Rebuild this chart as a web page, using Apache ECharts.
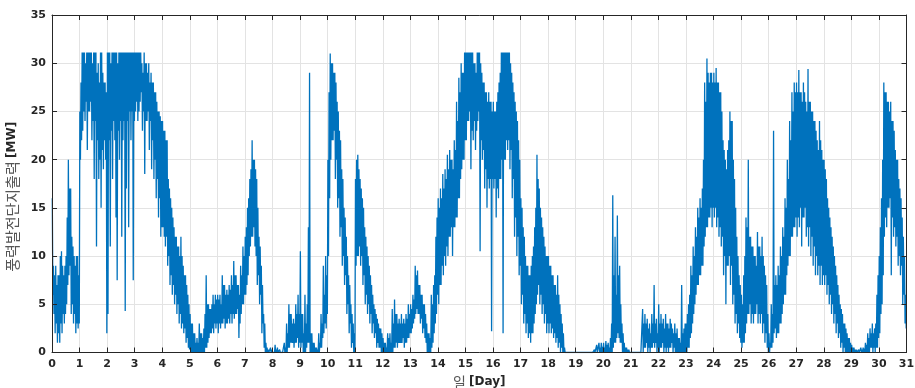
<!DOCTYPE html>
<html>
<head>
<meta charset="utf-8">
<script src="https://cdn.jsdelivr.net/npm/echarts@6/dist/echarts.min.js"></script>
<style>
  html, body { margin: 0; padding: 0; background: #ffffff; }
  #chart { width: 915px; height: 388px; }
</style>
</head>
<body>
<div id="chart"></div>
<script>
// Wind farm output over one month, summarised hour by hour (24 bins per day).
// hourHigh / hourLow hold the highest and lowest output [MW] within each hour.
const binsPerDay = 24;

const hourHigh = [
  16,9, 8,9, 7,8, 8,10, 10.5,9, 8,9, 10,14, 20,17, 17,12, 11,10, 9,10, 10,8,                 // day 0
  25,28, 31.1,31.1, 31.1,30, 31.1,31.1, 31.1,31.1, 31.1,30, 31.1,31.1, 31.1,29, 30,28, 31.1,31.1, 29,28, 28,27, // day 1
  31.1,31.1, 31.1,30, 31.1,31.1, 31.1,31.1, 31.1,30, 31.1,31.1, 31.1,31.1, 31.1,31.1, 31.1,31.1, 31.1,31.1, 31.1,31.1, 31.1,31.1, // day 2
  31.1,31.1, 31.1,31.1, 31.1,31.1, 30,29, 31.1,30, 30,29, 30,28, 29,28, 28,27, 27,26, 25,25, 24.5,24, // day 3
  24,23, 23,22, 22,18, 17,16, 15,14, 13,12, 12,11, 11,10, 12,10, 9,8, 8,7, 6,5,              // day 4
  4,3, 3,2, 2,1, 1.5,1, 3,2, 2,1.5, 2.5,4, 8,5, 5,4.5, 4.5,5, 6,5, 6,5.5,                    // day 5
  6,5.5, 6,5, 8,7, 7,6, 6.5,6, 7,6.5, 8,7, 9.5,8, 8,7, 7,6, 9,8, 11,10,                      // day 6
  12,13, 15,16, 18,19, 22,20, 20,19, 18,15, 12,11, 9,7, 4,3, 1,0.5, 0.3,0.2, 0.5,0.3,        // day 7
  0.2,0.1, 0.8,0.3, 0.5,0.2, 0.3,0.1, 0.2,0.1, 1,0.5, 3,2, 5,4, 4,3, 3.5,3, 5,4, 6,4,        // day 8
  10.5,4, 4,2, 6,3, 5,13, 29,2, 2,1, 1,0.5, 0.5,0.3, 2,1, 4,3, 9,6, 10,8,                    // day 9
  20,27, 31,30, 30,29, 29,28, 26,25, 23,22, 19,18, 15,14, 12,10, 8,7, 5,4, 3,2,              // day 10
  18,20, 20.5,19, 18,17, 16,15, 13,12, 11,10, 9,8, 7,6, 5,4.5, 4,3.5, 3,2.5, 2.5,2,          // day 11
  1.5,1, 1,0.5, 2,1.5, 2,1, 4.5,3, 5.5,4, 4,3, 3.5,3, 4,3, 3.5,3, 4,3.5, 5,4,                // day 12
  5,4.5, 6,5.5, 9,8, 8.5,7, 7,6, 6,5, 5,4, 3,2, 2,1.5, 6,5, 7,8, 12,14,                      // day 13
  16,15, 17,16, 18.5,17, 19,18, 20.5,19, 21,20, 20,19, 22,21, 26,24, 28.5,27, 30,29, 29,31.1, // day 14
  31.1,31.1, 31.1,31.1, 31.1,31.1, 31.1,30, 30,29, 31.1,31.1, 31.1,30, 29,28, 28,27, 27,26, 27,26, 26,25, // day 15
  26,25, 25,26, 27,28, 29,31.1, 31.1,31.1, 31.1,31.1, 31.1,31.1, 31.1,30, 29,28, 27,26, 25,24, 22,20, // day 16
  16,15, 13,12, 10,9, 9,8, 8,9, 10,11, 13,15, 20.5,18, 17,15, 14,13, 12,11, 10,10,           // day 17
  10,9, 9,8, 8,7, 7,6, 8,6, 5,4, 3,2, 0.5,0.2, 0,0, 0,0, 0,0, 0,0,                           // day 18
  0,0, 0,0, 0,0, 0,0, 0,0, 0,0, 0,0, 0,0, 0.3,0.1, 0.8,0.2, 1,0.5, 1,0.6,                    // day 19
  1,0.5, 1.2,0.8, 1,0.5, 1.5,3, 16.3,8, 12,6, 14.2,8, 9,5, 3,2, 1,0.5, 0.5,0.3, 0.3,0,       // day 20
  0,0, 0,0, 0,0, 0,0, 0,0, 4.5,3, 4,3, 3.5,2.5, 3,2, 4,3, 7,3, 3.5,2,                        // day 21
  5,3, 4,3, 3.5,2.5, 4,3, 3,2.5, 3.5,3, 2.5,2, 3,2, 2.5,1.5, 1.5,1, 7,2, 2.5,3,              // day 22
  3,4, 5,6, 9,8, 11,10, 13,12, 15,14, 16,15, 17,20, 28,26, 30.5,29, 28,29, 29,28,            // day 23
  29,28, 29.5,28, 28,27, 27,25, 22,21, 20,19, 21,22, 25,24, 24,20, 18,15, 12,10, 8,7,        // day 24
  6,5, 8,10, 14,13, 20,12, 12,11, 11,10, 10,9, 12.5,11, 11,10, 12,10, 9,8, 7,4,              // day 25
  2,1, 5,4, 23,7, 8,7, 9,8, 11,10, 13,12, 16,15, 20,18, 24,22, 27,25, 28,27,                 // day 26
  28,27, 29.3,27, 27,26, 28,27, 26,25, 29.4,26, 26,25, 25,24, 24,23, 22,21, 24,22, 21,20,    // day 27
  20,19, 18,16, 15,14, 13,12, 11,10, 9,8, 7,6, 5,4.5, 4,3, 3,2.5, 2,1.5, 1.5,1,              // day 28
  0.8,0.5, 0.5,0.3, 0.3,0.2, 0.3,0.2, 0.5,0.3, 0.5,0.4, 1,0.8, 2,1.5, 2.5,2, 3,2, 2.5,3, 6,8, // day 29
  10,13, 16,20, 28,27, 27,26, 26,25, 26,24, 24,23, 21,20, 20,18, 17,16, 14,12, 10,6          // day 30
];

const hourLow = [
  6,4, 2,3, 1,2, 1,3, 2,4, 3,4, 5,7, 8,9, 4,5, 3,4, 2,3, 2.5,3,                              // day 0
  20,22, 23,25, 24,26, 21,25, 25,26, 22,24, 18,24, 11,22, 18,20, 15,21, 19,22, 20,2,         // day 1
  4,22, 11,23, 18,24, 22,14, 7.5,23, 20,24, 12,22, 24,4.3, 17,24, 13,25, 22,25, 7.5,24,      // day 2
  25,26, 24,25, 26,27, 23,25, 18.5,24, 24,25, 21,24, 19,22, 18,20, 16,18, 14,16, 12,13,      // day 3
  13,12, 11,12, 9,10, 7,8, 6,7, 5,6, 4,5, 3,4, 2.5,3, 2,2.5, 1,1.5, 0.5,0.3,                 // day 4
  0,0, 0,0, 0,0, 0,0, 0,0, 0,0, 0,0.5, 0.5,1, 1.5,2, 2,2.5, 2,3, 2.5,3,                      // day 5
  2,3, 2.5,3, 3,3.5, 2.5,3, 3,3.5, 3,4, 3,4, 3.5,4, 4,4.5, 1.5,3, 4,5, 5,6,                  // day 6
  6,7, 8,10, 11,12, 12,13, 11,10, 7,8, 5,6, 2,3, 0.5,0, 0,0, 0,0, 0,0,                       // day 7
  0,0, 0,0, 0,0, 0,0, 0,0, 0,0, 0,0.5, 0.5,1, 1,1, 0.5,1, 1,1.5, 0.5,1,                      // day 8
  0.5,1, 0,0, 0,0.5, 1,1, 0,0, 0,0, 0,0, 0,0, 0,0.5, 0.5,1.5, 2,3, 2.5,4,                    // day 9
  10,16, 20,22, 22,23, 18,20, 15,16, 12,13, 9,10, 7,8, 4,5, 2,3, 0.5,1, 0,0,                 // day 10
  9,10, 10,11, 9,10, 7,8, 5,6, 4,5, 3,4, 2,3, 1.5,2, 0.5,1, 0.5,0.5, 0,0,                    // day 11
  0,0, 0,0, 0,0, 0,0, 0,0.5, 0.5,1, 0.5,1, 1,1, 1,1.5, 0.5,1, 1,1.5, 1.5,2,                  // day 12
  2,2.5, 3,3.5, 4,4.5, 4,4, 3,3.5, 2,2.5, 1.5,1, 0,0, 0,0, 0.5,1, 2,3, 4,6,                  // day 13
  5,7, 7,9, 8,10, 9,11, 10,12, 12,13, 10,13, 13,14, 14,16, 16,18, 19,20, 20,22,              // day 14
  22,24, 24,25, 19,23, 22,24, 21,23, 24,25, 10.5,22, 20,21, 17,19, 15,18, 17,18, 2.2,18,     // day 15
  17,18, 14,17, 16,18, 18,20, 2,20, 20,22, 21,22, 19,21, 16,18, 12,14, 10,12, 8,9,           // day 16
  5,6, 3,4, 2,3, 1.5,2, 1,2, 2,3, 4,5, 6,7, 5,6, 4,5, 3,4, 2,3,                              // day 17
  2,3, 2,2.5, 1.5,2, 1,1.5, 0.5,1, 0,0.5, 0,0, 0,0, 0,0, 0,0, 0,0, 0,0,                      // day 18
  0,0, 0,0, 0,0, 0,0, 0,0, 0,0, 0,0, 0,0, 0,0, 0,0, 0,0, 0,0,                                // day 19
  0,0, 0,0, 0,0, 0,0, 0.5,1, 1,1.5, 2,1.5, 1,1, 0,0, 0,0, 0,0, 0,0,                          // day 20
  0,0, 0,0, 0,0, 0,0, 0,0, 0,0.5, 0.5,1, 0,0.5, 0,0.5, 0.5,1, 0.5,1, 0,0.5,                  // day 21
  0,0.5, 0.5,1, 0,0.5, 0,0.5, 0,0.5, 0.5,1, 0,0.5, 0,0, 0,0, 0,0, 0,0, 0,0,                  // day 22
  0,0.5, 0.5,1.5, 2,3, 4,5, 6,7, 7,8, 8,9, 9,11, 12,13, 13,14, 14,15, 13,15,                 // day 23
  14,15, 13,14, 12,13, 11,12, 8,10, 5,9, 9,10, 7,9, 5,6, 3,4, 2,3, 1.5,1,                    // day 24
  0.5,1, 1,2, 3,4, 4,5, 3,4, 3,4, 4,5, 3,4, 3,4, 2,3, 1,2, 0.5,0,                            // day 25
  0,0.5, 0.5,1, 2,2.5, 1.5,2, 2,3, 3,4, 5,6, 6,8, 9,10, 10,12, 12,13, 13,14,                 // day 26
  12,14, 13,15, 11,14, 14,15, 12,13, 11,13, 10,12, 9,11, 8,10, 8,9, 7,9, 7,8,                // day 27
  7,8, 6,7, 5,6, 4,5, 3,4, 2,3, 1.5,2, 0.5,1, 0,0.5, 0,0, 0,0, 0,0,                          // day 28
  0,0, 0,0, 0,0, 0,0, 0,0, 0,0, 0,0, 0,0, 0.5,0.5, 0,0.5, 0,0.5, 0.5,1.5,                    // day 29
  2,4, 5,8, 12,14, 13,15, 15,16, 8,14, 12,13, 11,12, 9,10, 8,9, 5,6, 3,2.5                   // day 30
];

// Axis ranges and tick steps
const dayMin = 0, dayMax = 31, dayStep = 1;
const mwMin = 0, mwMax = 35, mwStep = 5;

// Each hour contributes its high and its low, placed inside the hour in time order
const outputPoints = [];
for (let i = 0; i < hourHigh.length; i++) {
  const start = i / binsPerDay;
  outputPoints.push([start + 0.25 / binsPerDay, hourHigh[i]]);
  outputPoints.push([start + 0.75 / binsPerDay, hourLow[i]]);
}

const ink = '#262626';
const tickFont = { fontFamily: 'DejaVu Sans', fontWeight: 'bold', fontSize: 11, color: ink };
const plotBox = { left: 52, top: 15, width: 854.5, height: 337.5, outerBoundsMode: 'none', containLabel: false };

const chart = echarts.init(document.getElementById('chart'), null, { renderer: 'canvas' });

const xScale = { type: 'value', min: dayMin, max: dayMax, interval: dayStep };
const yScale = { type: 'value', min: mwMin, max: mwMax, interval: mwStep };
const boxLine = { show: true, onZero: false, lineStyle: { color: ink, width: 1 } };
const boxTick = { show: true, inside: true, length: 5, lineStyle: { color: ink } };
const gridLine = { show: true, lineStyle: { color: '#e3e3e3', width: 1 } };

chart.setOption({
  animation: false,
  backgroundColor: '#ffffff',
  grid: [
    Object.assign({ show: false }, plotBox),
    Object.assign({ show: false }, plotBox)
  ],
  xAxis: [
    // grid lines beneath the data
    Object.assign({}, xScale, {
      gridIndex: 0, position: 'bottom',
      axisLine: { show: false }, axisTick: { show: false }, axisLabel: { show: false },
      splitLine: gridLine
    }),
    // box edges, ticks and labels drawn over the data
    Object.assign({}, xScale, {
      gridIndex: 1, position: 'bottom', z: 10,
      axisLine: boxLine, axisTick: boxTick,
      axisLabel: Object.assign({ margin: 6 }, tickFont),
      splitLine: { show: false },
      name: '{k|일} {b|[Day]}',
      nameLocation: 'middle',
      nameGap: 21,
      nameTextStyle: {
        rich: {
          k: { fontFamily: 'Noto Sans CJK KR', fontSize: 14, color: '#555555' },
          b: { fontFamily: 'DejaVu Sans', fontWeight: 'bold', fontSize: 12, color: ink }
        }
      }
    }),
    Object.assign({}, xScale, {
      gridIndex: 1, position: 'top', z: 10,
      axisLine: boxLine, axisTick: boxTick,
      axisLabel: { show: false }, splitLine: { show: false }
    })
  ],
  yAxis: [
    Object.assign({}, yScale, {
      gridIndex: 0, position: 'left',
      axisLine: { show: false }, axisTick: { show: false }, axisLabel: { show: false },
      splitLine: gridLine
    }),
    Object.assign({}, yScale, {
      gridIndex: 1, position: 'left', z: 10,
      axisLine: boxLine, axisTick: boxTick,
      axisLabel: Object.assign({ margin: 6 }, tickFont),
      splitLine: { show: false },
      name: '{k|풍력발전단지출력} {b|[MW]}',
      nameLocation: 'middle',
      nameRotate: 90,
      nameGap: 28,
      nameTextStyle: {
        padding: [0, 26, 0, 0],
        rich: {
          k: { fontFamily: 'Noto Sans CJK KR', fontSize: 15, color: '#555555' },
          b: { fontFamily: 'DejaVu Sans', fontWeight: 'bold', fontSize: 12, color: ink }
        }
      }
    }),
    Object.assign({}, yScale, {
      gridIndex: 1, position: 'right', z: 10,
      axisLine: boxLine, axisTick: boxTick,
      axisLabel: { show: false }, splitLine: { show: false }
    })
  ],
  series: [{
    type: 'line',
    xAxisIndex: 0,
    yAxisIndex: 0,
    data: outputPoints,
    showSymbol: false,
    symbol: 'none',
    sampling: 'none',
    clip: true,
    lineStyle: { color: '#0072BD', width: 1.3 },
    emphasis: { disabled: true },
    silent: true
  }]
});
</script>
</body>
</html>
